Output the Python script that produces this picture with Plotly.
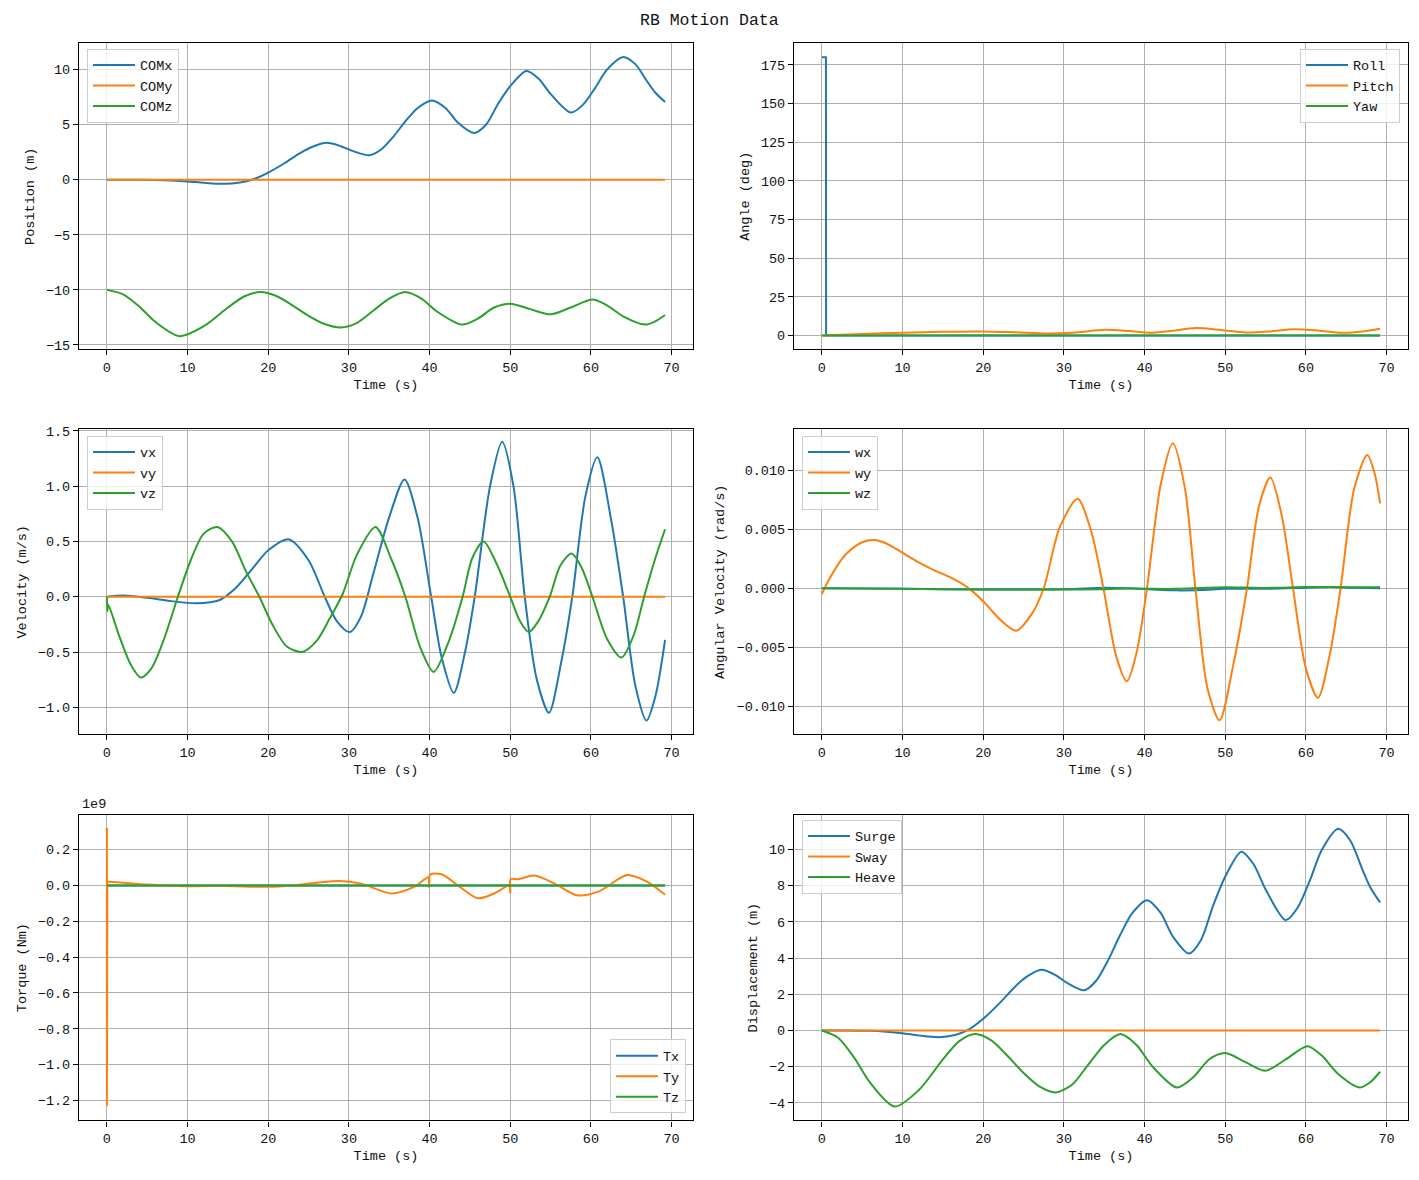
import plotly.graph_objects as go

# ---- data (time in s) ----
t_flat = [0, 69.2]
zeros_flat = [0, 0]

# position / displacement (m)
t_pos = [0, 3, 6, 8, 10, 12, 14.5, 16.5, 18, 20, 22, 24, 25.5, 27.2, 29, 30.5, 32.5, 34, 35.5, 37,
         38.5, 40.3, 42, 43.5, 45.5, 47, 48.5, 50, 52, 53.5, 55, 57.5, 59, 60.5, 62, 64, 65.5, 67, 68, 69.2]
com_x = [0, 0.0, -0.02, -0.07, -0.15, -0.27, -0.37, -0.25, 0.0, 0.65, 1.5, 2.45, 3.0, 3.35, 3.05, 2.6,
         2.22, 2.75, 3.9, 5.3, 6.5, 7.2, 6.5, 5.2, 4.25, 5.0, 6.9, 8.5, 9.88, 9.2, 7.8, 6.1, 6.8, 8.3,
         10.0, 11.15, 10.5, 8.9, 7.9, 7.07]
surge = [0, 0.0, -0.02, -0.07, -0.15, -0.27, -0.37, -0.25, 0.0, 0.65, 1.5, 2.45, 3.0, 3.35, 3.05, 2.6,
         2.22, 2.75, 3.9, 5.3, 6.5, 7.2, 6.5, 5.2, 4.25, 5.0, 6.9, 8.5, 9.88, 9.2, 7.8, 6.1, 6.8, 8.3,
         10.0, 11.15, 10.5, 8.9, 7.9, 7.07]

t_heave = [0, 2, 4, 6, 9, 12, 15, 17, 19, 21, 23, 25, 27, 29, 31, 33, 35, 37, 39, 41, 44, 46, 48, 50,
           52.5, 55, 57.5, 60.2, 62, 64, 66.7, 68, 69.2]
com_z = [-10.0, -10.4, -11.5, -12.9, -14.2, -13.3, -11.6, -10.6, -10.2, -10.55, -11.4, -12.35, -13.1,
         -13.42, -13.0, -11.9, -10.8, -10.2, -10.8, -12.0, -13.15, -12.6, -11.6, -11.25, -11.75, -12.22,
         -11.6, -10.87, -11.4, -12.4, -13.15, -12.85, -12.28]
heave = [0.0, -0.4, -1.5, -2.9, -4.2, -3.3, -1.6, -0.6, -0.2, -0.55, -1.4, -2.35, -3.1, -3.42, -3.0,
         -1.9, -0.8, -0.2, -0.8, -2.0, -3.15, -2.6, -1.6, -1.25, -1.75, -2.22, -1.6, -0.87, -1.4, -2.4,
         -3.15, -2.85, -2.28]

# angles (deg)
t_roll = [0, 0.5, 0.52, 69.2]
roll = [180, 180, 0, 0]
t_pitch = [0, 5, 10, 15, 20, 24, 28, 31.5, 35, 38, 41, 43.5, 46.3, 49.5, 52.5, 55.5, 58.5, 61.5, 64.5, 67, 69.2]
pitch = [0, 0.9, 1.8, 2.4, 2.6, 2.0, 1.3, 1.9, 3.6, 2.9, 1.7, 3.0, 4.8, 3.5, 1.9, 2.6, 4.0, 3.2, 1.7, 2.5, 4.3]

# velocity (m/s)
t_vx = [0, 2, 5, 8, 11, 14, 16, 18, 20, 22.5, 25, 27, 28.5, 30.1, 31.5, 33, 35, 36.9, 38.5, 40.2,
        41.5, 43, 44.4, 45.6, 47.5, 49, 50.4, 51.8, 53.3, 54.8, 56.3, 57.7, 59.3, 60.8, 62.5, 64.0,
        65.5, 66.9, 68, 69.2]
vx = [0, 0.01, -0.01, -0.04, -0.06, -0.03, 0.08, 0.25, 0.42, 0.52, 0.33, 0.0, -0.22, -0.32, -0.18,
      0.2, 0.72, 1.06, 0.72, 0.0, -0.55, -0.87, -0.5, 0.0, 1.0, 1.4, 1.0, 0.0, -0.75, -1.05, -0.6, 0.0,
      0.9, 1.26, 0.7, 0.0, -0.8, -1.12, -0.9, -0.39]
t_vz = [0, 0.05, 0.15, 1.5, 3, 4.2, 5.5, 7, 8.8, 10.5, 12, 13.7, 15.5, 17.3, 18.9, 20.5, 22.3, 24.2,
        26, 27.6, 29.2, 31, 33.3, 35.2, 37, 38.8, 40.5, 42.3, 44.1, 45.3, 46.7, 48.3, 50, 51.2, 52.3,
        53.5, 54.9, 56.2, 57.6, 58.8, 60.1, 62, 63.8, 65.3, 66.6, 68, 69.2]
vz = [0.0, -0.13, -0.07, -0.35, -0.62, -0.73, -0.65, -0.4, 0.0, 0.35, 0.57, 0.63, 0.5, 0.22, 0.0,
      -0.25, -0.45, -0.5, -0.4, -0.2, 0.02, 0.38, 0.63, 0.35, 0.0, -0.45, -0.68, -0.42, 0.0, 0.35, 0.5,
      0.3, 0.0, -0.22, -0.32, -0.22, 0.0, 0.28, 0.39, 0.27, 0.02, -0.38, -0.55, -0.35, 0.0, 0.35, 0.61]

# angular velocity (rad/s)
t_w = [0, 10, 20, 30, 35, 38, 41, 44, 47, 50, 55, 60, 63, 66, 69.2]
wx = [0, -0.00005, -0.0001, -0.00008, 0.00005, 0.0, -0.0001, -0.00018, -0.00015, -0.00005, -0.00005,
      0.00005, 0.0001, 0.00005, 0.0]
wz = [0, -0.00005, -0.0001, -0.0001, -0.00008, -0.00002, -0.00005, -0.00005, 0.00002, 0.00008,
      0.00003, 0.0001, 0.0001, 0.00008, 0.00008]
t_wy = [0, 1, 3, 5, 6.5, 8, 10, 12, 14, 16, 18, 20, 22, 24.1, 26, 27.5, 29.5, 31.7, 33.4, 34.9, 36.5,
        37.8, 39, 40.3, 42, 43.5, 45, 46.3, 47.8, 49.3, 51, 52.7, 54.2, 55.6, 57, 58.4, 60, 61.5, 63,
        64.3, 66, 67.6, 68.5, 69.2]
wy = [-0.0005, 0.0009, 0.0029, 0.0039, 0.0041, 0.0038, 0.0030, 0.0022, 0.0015, 0.0009, 0.0001,
      -0.0011, -0.0026, -0.0036, -0.0022, 0.0, 0.0052, 0.0076, 0.0048, 0.0, -0.0058, -0.0079, -0.0055,
      0.0, 0.0088, 0.0123, 0.0085, 0.0, -0.0085, -0.0112, -0.0065, 0.0, 0.0070, 0.0094, 0.0062, 0.0,
      -0.0068, -0.0093, -0.0055, 0.0, 0.0085, 0.0113, 0.0098, 0.0072]

# torque (x1e9 Nm): start-up spike, then the smooth part
t_ty_spike = [0, 0, 0.05]
ty_spike = [0.32, -1.23, 0.02]
t_ty = [0.05, 2, 5, 10, 15, 20, 23, 26, 28.8, 31.5, 35.3, 38, 39.9, 39.95, 40.05, 41.5, 43.5,
        46, 48, 49.95, 50.0, 50.05, 51, 53, 55.5, 58.3, 61, 64.5, 67, 69.2]
ty = [0.02, 0.015, 0.005, -0.004, -0.003, -0.008, 0.0, 0.015, 0.025, 0.01, -0.045, -0.01,
      0.045, -0.01, 0.06, 0.062, 0.0, -0.072, -0.045, 0.0, -0.04, 0.035, 0.035, 0.055, 0.01, -0.055,
      -0.033, 0.058, 0.02, -0.052]

BLUE, ORANGE, GREEN = "#1f77b4", "#ff7f0e", "#2ca02c"
FONT = "Liberation Mono, DejaVu Sans Mono, monospace"
W, H = 1419, 1180

# panel boxes in pixels: (left, right, top, bottom)
cols = [(79, 693), (794, 1408)]
rows = [(38.5, 347), (427.4, 735), (816, 1124)]

fig = go.Figure()

panels = [
    # row, col, y title, y range, tickformat, dtick
    (0, 0, "Position (m)", [-15.4, 12.4], None, 5),
    (0, 1, "Angle (deg)", [-9, 189], None, 25),
    (1, 0, "Velocity (m/s)", [-1.245, 1.515], ".1f", 0.5),
    (1, 1, "Angular Velocity (rad/s)", [-0.0124, 0.0135], ".3f", 0.005),
    (2, 0, "Torque (Nm)", [-1.311, 0.394], ".1f", 0.2),
    (2, 1, "Displacement (m)", [-4.97, 11.92], None, 2),
]

series = [
    [("COMx", t_pos, com_x, BLUE, "spline"), ("COMy", t_flat, zeros_flat, ORANGE, "linear"),
     ("COMz", t_heave, com_z, GREEN, "spline")],
    [("Roll", t_roll, roll, BLUE, "linear"), ("Pitch", t_pitch, pitch, ORANGE, "spline"),
     ("Yaw", t_flat, zeros_flat, GREEN, "linear")],
    [("vx", t_vx, vx, BLUE, "spline"), ("vy", t_flat, zeros_flat, ORANGE, "linear"),
     ("vz", t_vz, vz, GREEN, "spline")],
    [("wx", t_w, wx, BLUE, "spline"), ("wy", t_wy, wy, ORANGE, "spline"),
     ("wz", t_w, wz, GREEN, "spline")],
    [("Tx", t_flat, zeros_flat, BLUE, "linear"), ("Ty", t_ty, ty, ORANGE, "spline"),
     ("Tz", t_flat, zeros_flat, GREEN, "linear")],
    [("Surge", t_pos, surge, BLUE, "spline"), ("Sway", t_flat, zeros_flat, ORANGE, "linear"),
     ("Heave", t_heave, heave, GREEN, "spline")],
]

# legend anchor points in pixels: (x, y, xanchor, yanchor)
legend_pos = [
    (87, 44, "left", "top"),
    (1400, 44, "right", "top"),
    (87, 434, "left", "top"),
    (802, 434, "left", "top"),
    (686, 1117, "right", "bottom"),
    (802, 821, "left", "top"),
]

layout = {}
axis_common = dict(
    showline=True, linecolor="black", linewidth=1.2, mirror=True,
    ticks="outside", ticklen=5, tickwidth=1, tickcolor="black",
    showgrid=True, gridcolor="#b0b0b0", gridwidth=0.8, zeroline=False,
    tickfont=dict(family=FONT, size=13.5, color="#111"),
)

for i, (r, c, ytitle, yrange, tfmt, dtick) in enumerate(panels):
    n = i + 1
    sfx = "" if n == 1 else str(n)
    left, right = cols[c]
    top, bottom = rows[r]
    leg = "legend" if n == 1 else "legend%d" % n

    for name, xs, ys, color, shape in series[i]:
        fig.add_trace(go.Scatter(
            x=xs, y=ys, name=name, mode="lines", legendgroup=name,
            line=dict(color=color, width=2, shape=shape, smoothing=0.8 if shape == "spline" else None),
            xaxis="x" + sfx, yaxis="y" + sfx, legend=leg,
        ))
        if name == "Ty":
            # the start-up spike is drawn straight, like the raw samples
            fig.add_trace(go.Scatter(
                x=t_ty_spike, y=ty_spike, name=name, mode="lines", legendgroup=name,
                showlegend=False, line=dict(color=color, width=2),
                xaxis="x" + sfx, yaxis="y" + sfx, legend=leg,
            ))

    layout["xaxis" + sfx] = dict(
        axis_common, domain=[left / W, right / W], anchor="y" + sfx,
        range=[-3.46, 72.66], tick0=0, dtick=10,
        title=dict(text="Time (s)", font=dict(family=FONT, size=13.5, color="#111"), standoff=4),
    )
    ydict = dict(
        axis_common, domain=[1 - bottom / H, 1 - top / H], anchor="x" + sfx,
        range=yrange, tick0=0, dtick=dtick,
        title=dict(text=ytitle, font=dict(family=FONT, size=13.5, color="#111"), standoff=8),
    )
    if tfmt:
        ydict["tickformat"] = tfmt
    layout["yaxis" + sfx] = ydict

    lx, ly, xa, ya = legend_pos[i]
    layout[leg] = dict(
        x=lx / W, y=1 - ly / H, xanchor=xa, yanchor=ya,
        bgcolor="rgba(255,255,255,0.8)", bordercolor="#cccccc", borderwidth=1,
        font=dict(family=FONT, size=13.5, color="#111"),
        tracegroupgap=0, itemwidth=42,
    )

fig.update_layout(
    **layout,
    width=W, height=H,
    margin=dict(l=0, r=0, t=0, b=0),
    paper_bgcolor="white", plot_bgcolor="white",
    showlegend=True,
    annotations=[
        dict(text="RB Motion Data", x=0.5, y=1 - 16 / H, xref="paper", yref="paper",
             showarrow=False, xanchor="center", yanchor="middle",
             font=dict(family=FONT, size=16.5, color="#111")),
        dict(text="1e9", x=80 / W, y=1 - 806 / H, xref="paper", yref="paper",
             showarrow=False, xanchor="left", yanchor="middle",
             font=dict(family=FONT, size=13.5, color="#111")),
    ],
)

# drop the default page margin so the figure fills the window exactly
fig.write_html(
    "out.html",
    config={"displayModeBar": False},
    post_script="document.body.style.margin='0';document.body.style.overflow='hidden';",
)
